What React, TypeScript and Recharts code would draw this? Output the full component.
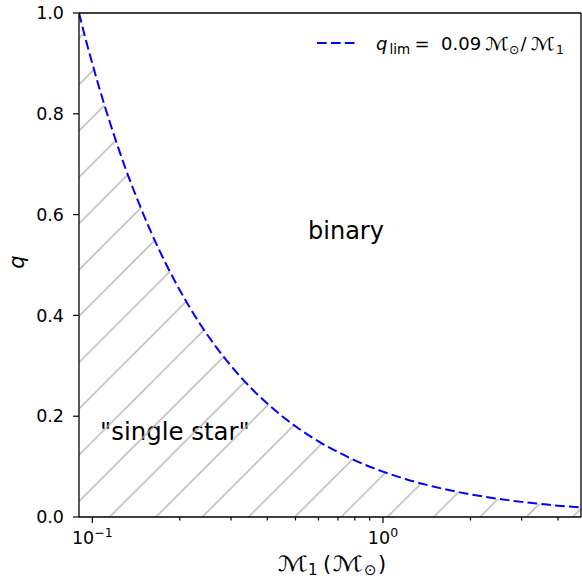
import React from "react";
import { ComposedChart, Area, Line, XAxis, YAxis, ReferenceLine, Customized } from "recharts";

// Curve values: primary mass M1 and limiting mass ratio q
const M1 = [0.09, 0.095, 0.1, 0.11, 0.12, 0.13, 0.14, 0.16, 0.18, 0.2, 0.23, 0.26, 0.3, 0.35, 0.4, 0.5, 0.6, 0.7, 0.8, 1.0, 1.2, 1.5, 2.0, 2.5, 3.0, 3.5, 4.0, 4.8];
const QLIM = [1.0, 0.947, 0.9, 0.818, 0.75, 0.692, 0.643, 0.5625, 0.5, 0.45, 0.391, 0.346, 0.3, 0.257, 0.225, 0.18, 0.15, 0.129, 0.1125, 0.09, 0.075, 0.06, 0.045, 0.036, 0.03, 0.026, 0.0225, 0.019];

const X_DOMAIN = [0.09, 4.8];
const X_MAJOR = [0.1, 1];
const X_MAJOR_EXP = ["\u22121", "0"];
const X_MINOR = [0.2, 0.3, 0.4, 0.5, 0.6, 0.7, 0.8, 0.9, 2, 3, 4];
const Y_TICKS = [0, 0.2, 0.4, 0.6, 0.8, 1.0];

const data = M1.map((m, i) => ({ m, q: QLIM[i] }));

const FONT = "DejaVu Sans";
const W = 582;
const H = 580;
const PLOT_TOP = 13;
const PLOT_BOTTOM = 517;
const PLOT_LEFT = 79;
const PLOT_RIGHT = 581;
const SCRIPT_M = "\u2133";

function XTick(props: any) {
  const { x, payload } = props;
  const v = payload.value;
  const mi = X_MAJOR.indexOf(v);
  const major = mi >= 0;
  return (
    <g>
      <line x1={x} x2={x} y1={PLOT_BOTTOM} y2={PLOT_BOTTOM + (major ? 6 : 3.5)} stroke="#000" strokeWidth={1.2} />
      {major && (
        <text x={x} y={544} textAnchor="middle" fontSize={17.5} fontFamily={FONT} fill="#000">
          10<tspan dy={-7} fontSize={12.5}>{X_MAJOR_EXP[mi]}</tspan>
        </text>
      )}
    </g>
  );
}

function Annotations() {
  return (
    <g fontFamily={FONT} fill="#000">
      <rect x={91} y={414} width={168} height={39} fill="#fff" />
      <text x={100} y={440} fontSize={24.4}>"single star"</text>
      <text x={346} y={239} fontSize={24} textAnchor="middle">binary</text>
      {/* legend */}
      <line x1={317} x2={358} y1={43} y2={43} stroke="#0000ff" strokeWidth={2} strokeDasharray="9.7 4.2" />
      <g fontSize={18}>
        <text x={376} y={50} fontStyle="italic">q</text>
        <text x={389.5} y={53.5} fontSize={13.5}>lim</text>
        <text x={414.5} y={50}>=</text>
        <text x={441} y={50}>0.09</text>
        <text x={485} y={50} textLength={24} lengthAdjust="spacingAndGlyphs">{SCRIPT_M}</text>
        <text x={509} y={53.5} fontSize={12.5}>⊙</text>
        <text x={520.5} y={50}>/</text>
        <text x={530.5} y={50} textLength={24.5} lengthAdjust="spacingAndGlyphs">{SCRIPT_M}</text>
        <text x={556} y={53.5} fontSize={12.5}>1</text>
      </g>
      {/* axis labels */}
      <g fontSize={21}>
        <text x={278} y={571} textLength={30} lengthAdjust="spacingAndGlyphs">{SCRIPT_M}</text>
        <text x={308} y={575} fontSize={15}>1</text>
        <text x={323} y={571}>(</text>
        <text x={333} y={571} textLength={30} lengthAdjust="spacingAndGlyphs">{SCRIPT_M}</text>
        <text x={364} y={575} fontSize={15}>⊙</text>
        <text x={378} y={571}>)</text>
      </g>
      <text x={24} y={262} fontSize={21} fontStyle="italic" textAnchor="middle" transform="rotate(-90, 24, 262)">q</text>
    </g>
  );
}

export default function App() {
  return (
    <div style={{ position: "absolute", left: 0, top: 0, width: W, height: H, background: "#fff" }}>
      <ComposedChart
        width={W}
        height={H}
        data={data}
        margin={{ top: PLOT_TOP, right: W - PLOT_RIGHT, left: 0, bottom: 0 }}
      >
        <defs>
          <pattern id="hatch" patternUnits="userSpaceOnUse" x={24.7} y={0} width={46.3} height={46.3}>
            <line x1={0} y1={46.3} x2={46.3} y2={0} stroke="#b4b4b4" strokeWidth={1.4} />
            <line x1={-2} y1={2} x2={2} y2={-2} stroke="#b4b4b4" strokeWidth={1.4} />
            <line x1={44.3} y1={48.3} x2={48.3} y2={44.3} stroke="#b4b4b4" strokeWidth={1.4} />
          </pattern>
        </defs>
        <XAxis
          dataKey="m"
          type="number"
          scale="log"
          domain={X_DOMAIN}
          allowDataOverflow
          ticks={[...X_MAJOR, ...X_MINOR]}
          interval={0}
          tick={<XTick />}
          tickLine={false}
          tickSize={0}
          tickMargin={0}
          height={H - PLOT_BOTTOM}
          axisLine={{ stroke: "#000", strokeWidth: 1.3 }}
        />
        <YAxis
          type="number"
          domain={[0, 1]}
          ticks={Y_TICKS}
          interval={0}
          width={PLOT_LEFT}
          tickSize={6}
          tickMargin={9}
          tickFormatter={(v: number) => v.toFixed(1)}
          tick={{ fontSize: 17.5, fontFamily: FONT, fill: "#000" }}
          tickLine={{ stroke: "#000", strokeWidth: 1.2 }}
          axisLine={{ stroke: "#000", strokeWidth: 1.3 }}
        />
        <Area
          dataKey="q"
          type="monotone"
          baseValue={0}
          stroke="none"
          fill="url(#hatch)"
          fillOpacity={1}
          isAnimationActive={false}
        />
        <ReferenceLine y={1} stroke="#000" strokeWidth={1.3} />
        <ReferenceLine x={X_DOMAIN[1]} stroke="#000" strokeWidth={1.3} />
        <Customized component={<Annotations />} />
        <Line
          dataKey="q"
          type="monotone"
          stroke="#0000ff"
          strokeWidth={2}
          strokeDasharray="9.7 4.2"
          dot={false}
          activeDot={false}
          isAnimationActive={false}
        />
      </ComposedChart>
    </div>
  );
}
